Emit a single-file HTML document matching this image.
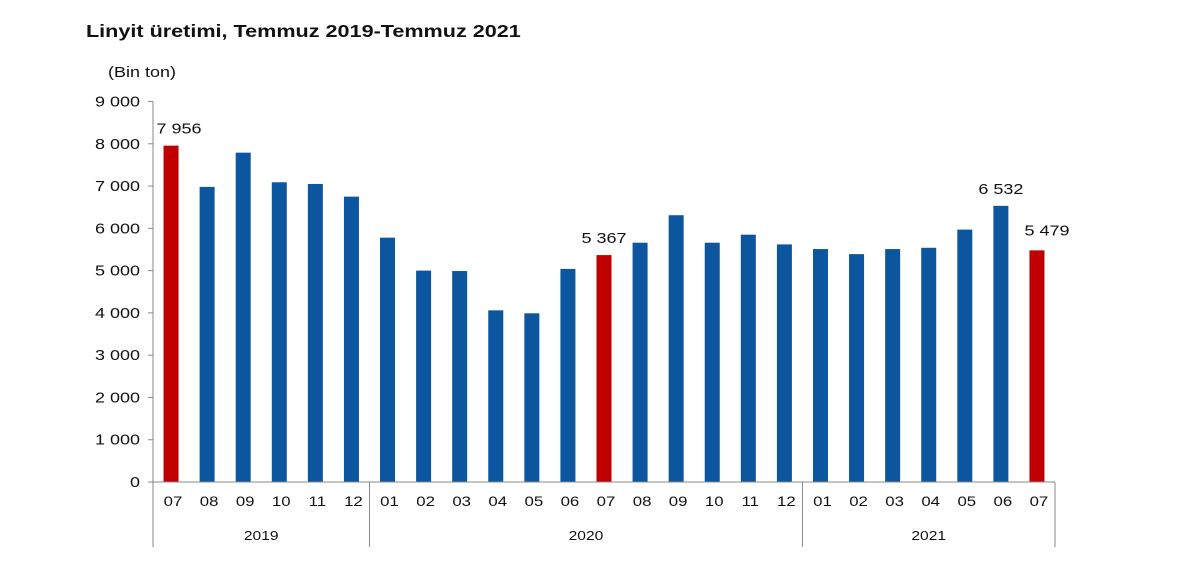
<!DOCTYPE html>
<html><head><meta charset="utf-8"><style>
body{margin:0;background:#fff;width:1200px;height:578px;overflow:hidden;font-family:"Liberation Sans",sans-serif;}
svg text{font-family:"Liberation Sans",sans-serif;fill:#111;transform-box:fill-box;}
.l{transform-origin:left center;transform:scaleX(1.2);}
.r{transform-origin:right center;transform:scaleX(1.2);}
.c{transform-origin:center center;transform:scaleX(1.2);}
</style></head><body>
<svg id="chart" width="1200" height="578">
<text class="l" x="86" y="37" font-size="18" font-weight="bold">Linyit üretimi, Temmuz 2019-Temmuz 2021</text>
<text class="l" x="108" y="77" font-size="15">(Bin ton)</text>
<g id="plot"></g>
</svg>
<script>
const months=["07","08","09","10","11","12","01","02","03","04","05","06","07","08","09","10","11","12","01","02","03","04","05","06","07"];
const values=[7956,6980,7790,7090,7050,6750,5780,5000,4990,4060,3990,5040,5367,5660,6310,5660,5850,5620,5510,5390,5510,5540,5970,6532,5479];
const highlighted=[0,12,24];
const labelled=[0,12,23,24];
const years=["2019","2020","2021"];
const yearStart=[0,6,18];
const yearEnd=[6,18,25];
const yTicks=[0,1000,2000,3000,4000,5000,6000,7000,8000,9000];

const NS="http://www.w3.org/2000/svg";
const g=document.getElementById('plot');
const x0=153,x1=1055,y0=482,yTop=101.5,yMax=9000;
const cw=(x1-x0)/months.length;
const ys=v=>y0-(v/yMax)*(y0-yTop);
const xc=i=>x0+cw*(i+0.5);
const fmt=v=>{const s=String(Math.round(v));return s.length>3?s.slice(0,-3)+" "+s.slice(-3):s;};
function mk(t,a){const e=document.createElementNS(NS,t);for(const k in a)e.setAttribute(k,a[k]);g.appendChild(e);return e;}

yTicks.forEach(v=>{
  const t=mk('text',{x:140,y:ys(v)+5,'font-size':15,'text-anchor':'end','class':'r'});
  t.textContent=fmt(v);
  
  
  const l=mk('line',{x1:x0-5,x2:x0,y1:ys(v),y2:ys(v),stroke:'#888'});
  
  
});
const ya=mk('line',{x1:x0,x2:x0,y1:yTop,y2:y0,stroke:'#888'});



values.forEach((v,i)=>{
  const r=mk('rect',{x:xc(i)-7.5,y:ys(v),width:15,height:y0-ys(v),fill:highlighted.includes(i)?'#c00000':'#0c56a0'});
  
  
  const t=mk('text',{x:xc(i)+2,y:506,'font-size':14,'text-anchor':'middle','class':'c'});
  t.textContent=months[i];
  
  
  if(labelled.includes(i)){
    const vl=mk('text',{x:xc(i)+(i===0?8:(i===24?10:0)),y:ys(v)-(i===24?15:12),'font-size':15,'text-anchor':'middle','class':'c'});
    vl.textContent=fmt(v);
    
    
  }
});
const xa=mk('line',{x1:x0,x2:x1,y1:y0,y2:y0,stroke:'#888'});


const seps=[0,6,18,25];
seps.forEach(s=>{
  const l=mk('line',{x1:x0+cw*s,x2:x0+cw*s,y1:y0,y2:547,stroke:'#888'});
  
  
});
years.forEach((y,k)=>{
  const t=mk('text',{x:(x0+cw*yearStart[k]+x0+cw*yearEnd[k])/2,y:540,'font-size':13,'text-anchor':'middle','class':'c'});
  t.textContent=y;
  
  
});
</script>
</body></html>
